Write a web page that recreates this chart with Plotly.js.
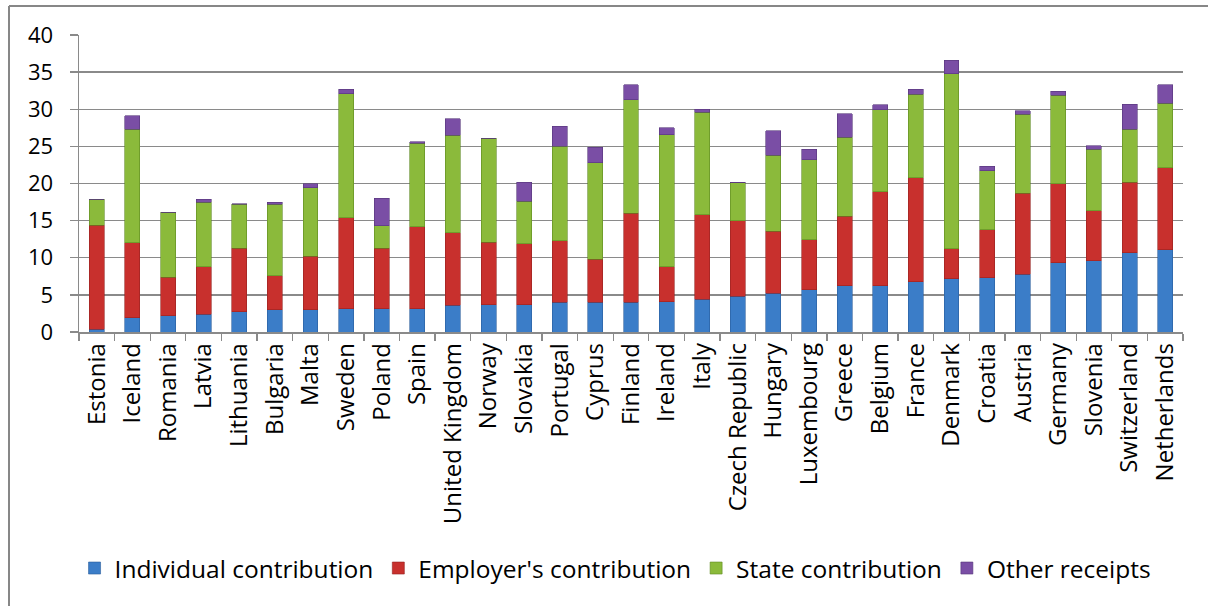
<!DOCTYPE html>
<html>
<head>
<meta charset="utf-8">
<script src="https://cdn.plot.ly/plotly-3.0.1.min.js"></script>
<style>html,body{margin:0;padding:0;background:#fff;}#chart{width:1208px;height:606px;}</style>
</head>
<body>
<div id="chart"></div>
<script>
const countries = ["Estonia","Iceland","Romania","Latvia","Lithuania","Bulgaria","Malta","Sweden","Poland","Spain","United Kingdom","Norway","Slovakia","Portugal","Cyprus","Finland","Ireland","Italy","Czech Republic","Hungary","Luxembourg","Greece","Belgium","France","Denmark","Croatia","Austria","Germany","Slovenia","Switzerland","Netherlands"];
const individual = [0.4,1.9,2.2,2.4,2.7,3.0,3.0,3.1,3.1,3.1,3.6,3.7,3.7,4.0,4.0,4.0,4.1,4.4,4.8,5.2,5.7,6.2,6.2,6.8,7.2,7.3,7.8,9.3,9.6,10.7,11.1];
const employer   = [14.0,10.1,5.2,6.4,8.6,4.6,7.2,12.3,8.2,11.1,9.8,8.4,8.2,8.3,5.8,12.0,4.7,11.4,10.2,8.4,6.7,9.4,12.7,14.0,4.0,6.5,10.9,10.7,6.7,9.5,11.0];
const state      = [3.5,15.3,8.7,8.7,5.9,9.6,9.2,16.7,3.0,11.2,13.1,14.0,5.7,12.7,13.0,15.3,17.8,13.8,5.1,10.2,10.8,10.6,11.0,11.2,23.6,7.9,10.6,11.9,8.3,7.1,8.7];
const other      = [0.0,1.8,0.0,0.4,0.1,0.3,0.6,0.6,3.7,0.2,2.2,0.0,2.6,2.7,2.1,2.0,0.9,0.4,0.1,3.3,1.4,3.2,0.7,0.7,1.8,0.6,0.5,0.5,0.5,3.4,2.5];
const seriesNames = ["Individual contribution","Employer's contribution","State contribution","Other receipts"];
const yTicks = [0,5,10,15,20,25,30,35,40];

const colors = ["#3b7dc8","#c8302d","#8bba3b","#7a4ea5"];
const lines  = ["#2a5e9c","#962220","#5f8a22","#553579"];
const vals = [individual, employer, state, other];

const traces = vals.map((v,i)=>({
  type:'bar', x:countries, y:v, name:seriesNames[i],
  marker:{color:colors[i], line:{color:lines[i], width:0.6}},
  hoverinfo:'y+name'
}));

const gray = '#8a8a8a';
const layout = {
  width:1208, height:606,
  barmode:'stack', bargap:0.58,
  paper_bgcolor:'#fff', plot_bgcolor:'#fff',
  margin:{l:79, r:25, t:35, b:274},
  font:{family:'"Open Sans", sans-serif', color:'#000'},
  showlegend:true,
  legend:{orientation:'h', x:0.486, xanchor:'center', y:-0.795, yanchor:'middle',
          font:{size:24.5, family:'"Open Sans", sans-serif'}, traceorder:'normal',
          itemwidth:30, bgcolor:'rgba(0,0,0,0)'},
  xaxis:{type:'category', showline:true, linecolor:gray, linewidth:1.5,
         ticks:'outside', ticklen:7, tickcolor:gray, tickwidth:1.3, tickson:'boundaries',
         tickangle:-90, tickfont:{size:24}, showgrid:false, fixedrange:true},
  yaxis:{range:[0,40], tickvals:yTicks, showline:true, linecolor:gray, linewidth:1.5,
         ticks:'outside', ticklen:8, tickcolor:gray, tickwidth:1.3,
         showgrid:true, gridcolor:gray, gridwidth:1.4, zeroline:false,
         tickfont:{size:22}, ticklabelstandoff:12, fixedrange:true},
  shapes:[
    {type:'line', xref:'paper', yref:'paper', x0:-0.0634, x1:-0.0634, y0:1.0976, y1:-0.95, line:{color:'#878787', width:2}},
    {type:'line', xref:'paper', yref:'paper', x0:-0.0634, x1:1.05, y0:1.0976, y1:1.0976, line:{color:'#878787', width:2}}
  ]
};

Plotly.newPlot('chart', traces, layout, {displayModeBar:false, staticPlot:true});
</script>
</body>
</html>
